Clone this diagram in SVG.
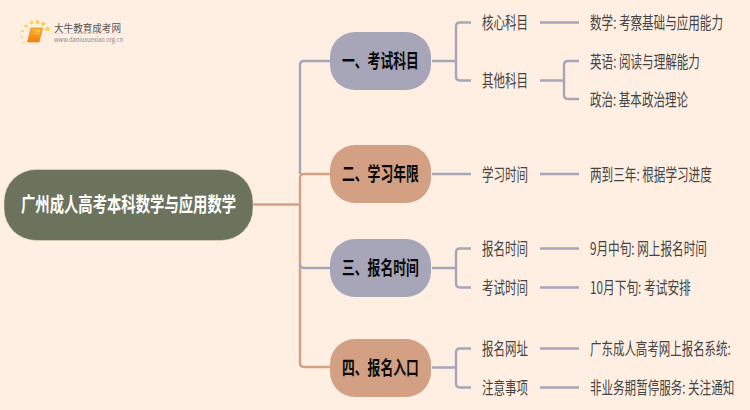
<svg xmlns="http://www.w3.org/2000/svg" width="750" height="410" viewBox="0 0 750 410">
<defs>
<linearGradient id="book" x1="0" y1="0" x2="0" y2="1"><stop offset="0" stop-color="#fbb62c"/><stop offset="1" stop-color="#ee7f10"/></linearGradient>
<linearGradient id="rule" x1="0" y1="0" x2="1" y2="0"><stop offset="0" stop-color="#d8d0c8" stop-opacity="0.2"/><stop offset="0.4" stop-color="#d5cec6"/><stop offset="1" stop-color="#d5cec6" stop-opacity="0"/></linearGradient>
</defs>
<style>
text{font-family:"Noto Sans CJK SC","Liberation Sans",sans-serif;dominant-baseline:central}
.c{fill:none;stroke-width:2.4;stroke-linecap:butt}
.b{stroke:#a7a6b8}.o{stroke:#d3a084}
.n1{fill:#a7a6b8}.n2{fill:#d3a084}
.bt{font-size:19px;font-weight:700;fill:#0a0a0a}
.t{font-size:17px;fill:#444}
.d{fill:#fbd04e}
</style>
<rect width="750" height="410" fill="#ffefe2"/>
<g id="logo">
<circle class="d" cx="47.500" cy="29" r="2.200"/><circle class="d" cx="43" cy="24" r="2"/><circle class="d" cx="37.500" cy="22" r="2"/><circle class="d" cx="31.500" cy="22.500" r="1.800"/><circle class="d" cx="26" cy="26" r="1.600"/><circle class="d" cx="22.500" cy="31" r="1.300"/><circle class="d" cx="22" cy="37" r="1.100"/><circle class="d" cx="24" cy="42.500" r="0.900"/>
<path d="M31 28H42.500L39 42H27.500Z" fill="url(#book)" stroke="#ee8a1c" stroke-width="0.800"/>
<path d="M35 31H40M34.500 33.500H39.500" stroke="#ffe39a" stroke-width="0.700" fill="none"/>
<rect x="46" y="33" width="88" height="1" fill="url(#rule)"/>
<text x="54" y="27" font-size="10" fill="#555" textLength="67" lengthAdjust="spacingAndGlyphs">大牛教育成考网</text>
<text x="54" y="39" font-size="6" fill="#8a8a8a" textLength="69" lengthAdjust="spacingAndGlyphs">www.daniuxuexiao.org.cn</text>
</g>
<g id="connectors">
<path class="c b" d="M330 61H304Q300 61 300 65V174"/>
<path class="c o" d="M253 204.500H300"/>
<path class="c o" d="M330 174H304Q300 174 300 178V363Q300 367 304 367H330"/>
<path class="c b" d="M300 264Q300 268 304 268H330"/>
<path class="c b" d="M432 61H455M471 22.500H460Q456 22.500 456 26.500V76.500Q456 80.500 460 80.500H471"/>
<path class="c b" d="M432 174H471"/>
<path class="c b" d="M432 268H455M471 248.500H460Q456 248.500 456 252.500V283.500Q456 287.500 460 287.500H471"/>
<path class="c b" d="M432 367.500H455M471 348.500H460Q456 348.500 456 352.500V383.500Q456 387.500 460 387.500H471"/>
<path class="c b" d="M540 22.500H579M540 248.500H579M540 287.500H579M540 348.500H579M540 387.500H579M540 174H579"/>
<path class="c b" d="M540 80.500H563M579 61H568Q564 61 564 65V95Q564 99 568 99H579"/>
</g>
<g id="root"><rect x="4" y="169.500" width="249" height="71" rx="32" fill="#6b735c" stroke="#ecdcc8" stroke-width="0.600"/><text transform="translate(21 203) scale(.717 1)" font-size="20" font-weight="700" fill="#fff" textLength="300" lengthAdjust="spacingAndGlyphs">广州成人高考本科数学与应用数学</text></g>
<g id="b1"><rect class="n1" x="330" y="32" width="101" height="58" rx="25"/><text class="bt" transform="translate(342 60) scale(.68 1)" textLength="113" lengthAdjust="spacingAndGlyphs">一、考试科目</text></g>
<g id="b2"><rect class="n2" x="330" y="145" width="101" height="58" rx="25"/><text class="bt" transform="translate(342 173) scale(.68 1)" textLength="113" lengthAdjust="spacingAndGlyphs">二、学习年限</text></g>
<g id="b3"><rect class="n1" x="330" y="239" width="101" height="58" rx="25"/><text class="bt" transform="translate(342 267) scale(.68 1)" textLength="113" lengthAdjust="spacingAndGlyphs">三、报名时间</text></g>
<g id="b4"><rect class="n2" x="330" y="339" width="101" height="58" rx="25"/><text class="bt" transform="translate(342 367) scale(.68 1)" textLength="113" lengthAdjust="spacingAndGlyphs">四、报名入口</text></g>
<g id="l1"><text class="t" transform="translate(482 21.500) scale(.7 1)" textLength="65.700" lengthAdjust="spacingAndGlyphs">核心科目</text></g>
<g id="l2"><text class="t" transform="translate(482 79.500) scale(.7 1)" textLength="65.700" lengthAdjust="spacingAndGlyphs">其他科目</text></g>
<g id="l3"><text class="t" transform="translate(482 173.500) scale(.7 1)" textLength="65.700" lengthAdjust="spacingAndGlyphs">学习时间</text></g>
<g id="l4"><text class="t" transform="translate(482 247.500) scale(.7 1)" textLength="65.700" lengthAdjust="spacingAndGlyphs">报名时间</text></g>
<g id="l5"><text class="t" transform="translate(482 286.500) scale(.7 1)" textLength="65.700" lengthAdjust="spacingAndGlyphs">考试时间</text></g>
<g id="l6"><text class="t" transform="translate(482 347.500) scale(.7 1)" textLength="65.700" lengthAdjust="spacingAndGlyphs">报名网址</text></g>
<g id="l7"><text class="t" transform="translate(482 386.500) scale(.7 1)" textLength="65.700" lengthAdjust="spacingAndGlyphs">注意事项</text></g>
<g id="r1"><text class="t" transform="translate(590 21.500) scale(.7 1)" textLength="190" lengthAdjust="spacingAndGlyphs">数学: 考察基础与应用能力</text></g>
<g id="r2"><text class="t" transform="translate(590 60.500) scale(.7 1)" textLength="157" lengthAdjust="spacingAndGlyphs">英语: 阅读与理解能力</text></g>
<g id="r3"><text class="t" transform="translate(590 98.500) scale(.7 1)" textLength="140" lengthAdjust="spacingAndGlyphs">政治: 基本政治理论</text></g>
<g id="r4"><text class="t" transform="translate(590 173.500) scale(.7 1)" textLength="174" lengthAdjust="spacingAndGlyphs">两到三年: 根据学习进度</text></g>
<g id="r5"><text class="t" transform="translate(590 247.500) scale(.7 1)" textLength="167" lengthAdjust="spacingAndGlyphs">9月中旬: 网上报名时间</text></g>
<g id="r6"><text class="t" transform="translate(590 286.500) scale(.7 1)" textLength="144" lengthAdjust="spacingAndGlyphs">10月下旬: 考试安排</text></g>
<g id="r7"><text class="t" transform="translate(590 347.500) scale(.7 1)" textLength="201" lengthAdjust="spacingAndGlyphs">广东成人高考网上报名系统:</text></g>
<g id="r8"><text class="t" transform="translate(590 386.500) scale(.7 1)" textLength="206" lengthAdjust="spacingAndGlyphs">非业务期暂停服务: 关注通知</text></g>
</svg>
